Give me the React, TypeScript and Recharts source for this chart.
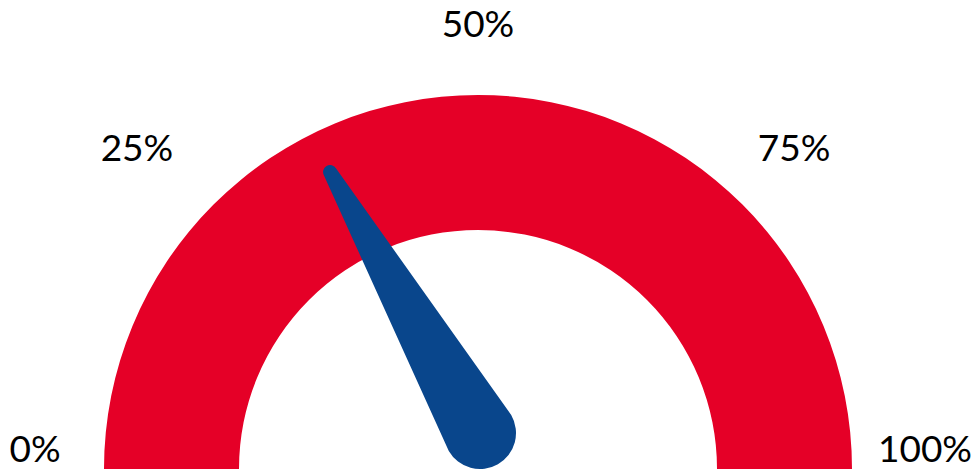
import { PieChart, Pie, Cell } from "recharts";

const ticks = [0, 25, 50, 75, 100];
const tickLabels = ["0%", "25%", "50%", "75%", "100%"];
const bandValues = [100];
const needleValue = 33.4;

const W = 974;
const H = 470;
const CX = 478;
const CY = 469;
const INNER = 239;
const OUTER = 374;
const RED = "#E50027";
const BLUE = "#09468C";

const toRad = (v: number) => Math.PI - (v / 100) * Math.PI;

function TickLabels() {
  // the 25% label sits a bit further left than the rest in the original
  const nudge: Record<number, number> = { 0: 4, 25: -25 };
  return (
    <g>
      {ticks.map((t, i) => {
        const a = toRad(t);
        const x = CX + 447 * Math.cos(a) + (nudge[t] || 0);
        const y = CY - 22 - 425 * Math.sin(a);
        return (
          <text
            key={t}
            x={x}
            y={y}
            textAnchor="middle"
            dominantBaseline="central"
            fontFamily="Lato, sans-serif"
            fontSize={37}
            fill="#000"
          >
            {tickLabels[i]}
          </text>
        );
      })}
    </g>
  );
}

// needle drawn from the sector the pie gives for the value slice
function NeedleShape(props: any) {
  if (props.index !== 0 && props.name !== "value") return <g />;
  const a = (props.endAngle * Math.PI) / 180;
  const px = props.cx + 2;
  const py = props.cy - 36;
  const len = 301;
  const rBase = 36;
  const rTip = 7;
  const ux = Math.cos(a);
  const uy = -Math.sin(a);
  const nx = -uy;
  const ny = ux;
  const tx = px + len * ux;
  const ty = py + len * uy;
  const d = [
    `M ${px + rBase * nx} ${py + rBase * ny}`,
    `L ${tx + rTip * nx} ${ty + rTip * ny}`,
    `A ${rTip} ${rTip} 0 0 0 ${tx - rTip * nx} ${ty - rTip * ny}`,
    `L ${px - rBase * nx} ${py - rBase * ny}`,
    `A ${rBase} ${rBase} 0 0 0 ${px + rBase * nx} ${py + rBase * ny}`,
    "Z",
  ].join(" ");
  return <path d={d} fill={BLUE} />;
}

export default function App() {
  const band = bandValues.map((v) => ({ value: v }));
  const needle = [
    { name: "value", value: needleValue },
    { name: "rest", value: 100 - needleValue },
  ];
  return (
    <div style={{ position: "absolute", left: 0, top: 0, width: W, height: H, background: "#fff" }}>
      <PieChart width={W} height={H} margin={{ top: 0, right: 0, bottom: 0, left: 0 }}>
        <Pie
          data={band}
          dataKey="value"
          cx={CX}
          cy={CY}
          startAngle={180}
          endAngle={0}
          innerRadius={INNER}
          outerRadius={OUTER}
          stroke="none"
          isAnimationActive={false}
        >
          {band.map((_, i) => (
            <Cell key={i} fill={RED} />
          ))}
        </Pie>
        <Pie
          data={needle}
          dataKey="value"
          nameKey="name"
          cx={CX}
          cy={CY}
          startAngle={180}
          endAngle={0}
          innerRadius={0}
          outerRadius={10}
          stroke="none"
          fill="none"
          shape={NeedleShape}
          isAnimationActive={false}
        />
        <TickLabels />
      </PieChart>
    </div>
  );
}
